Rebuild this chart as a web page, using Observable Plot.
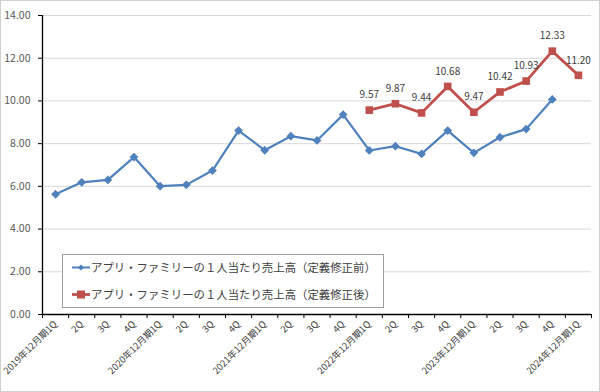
<!DOCTYPE html>
<html>
<head>
<meta charset="utf-8">
<script src="https://cdn.jsdelivr.net/npm/d3@7"></script>
<script src="https://cdn.jsdelivr.net/npm/@observablehq/plot@0.6"></script>
<style>
  body { margin: 0; background: #fff; }
  #wrap { position: relative; width: 600px; height: 392px; font-family: "Noto Sans CJK JP", sans-serif; }
  #border { position: absolute; left: 0; top: 0; width: 598px; height: 390px; border: 1px solid #d0d0d0; pointer-events: none; }
  #legend { position: absolute; left: 62px; top: 254px; width: 322px; height: 54px; border: 1px solid #a0a0a0; background: #fff; box-sizing: border-box; font-size: 11.4px; color: #404040; }
  .row { position: absolute; left: 9px; height: 14px; display: flex; align-items: center; white-space: nowrap; }
  .row svg { margin-right: 1px; }
</style>
</head>
<body>
<div id="wrap">
  <div id="chart"></div>
  <div id="legend"></div>
  <div id="border"></div>
</div>
<script>
const categories = ["2019年12月期1Q","2Q","3Q","4Q","2020年12月期1Q","2Q","3Q","4Q","2021年12月期1Q","2Q","3Q","4Q","2022年12月期1Q","2Q","3Q","4Q","2023年12月期1Q","2Q","3Q","4Q","2024年12月期1Q"];
const seriesBefore = [5.63,6.19,6.30,7.37,6.01,6.07,6.74,8.61,7.69,8.35,8.15,9.36,7.68,7.88,7.52,8.61,7.57,8.30,8.68,10.07,null];
const seriesAfter = [null,null,null,null,null,null,null,null,null,null,null,null,9.57,9.87,9.44,10.68,9.47,10.42,10.93,12.33,11.20];
const seriesNames = ["アプリ・ファミリーの１人当たり売上高（定義修正前）","アプリ・ファミリーの１人当たり売上高（定義修正後）"];
const yTicks = [0,2,4,6,8,10,12,14];
const colors = ["#4f81bd","#c0504d"];

const before = seriesBefore.map((v,i)=>({i, v})).filter(d=>d.v!=null);
const after = seriesAfter.map((v,i)=>({i, v})).filter(d=>d.v!=null);

const font = '"Noto Sans CJK JP", sans-serif';
const chart = Plot.plot({
  width: 600, height: 392,
  marginLeft: 42, marginRight: 9, marginTop: 15, marginBottom: 78,
  style: {fontFamily: font, background: "transparent", overflow: "visible"},
  x: {type: "linear", domain: [-0.5, categories.length - 0.5]},
  y: {domain: [0, 14]},
  marks: [
    Plot.ruleY(yTicks.filter(t=>t>0), {stroke: "#d9d9d9", strokeWidth: 1}),
    Plot.axisY({ticks: yTicks, tickFormat: d=>d.toFixed(2), tickSize: 4, tickPadding: 8, stroke: "#000", fill: "#595959", fontSize: 10.5, label: null}),
    Plot.axisX({ticks: d3.range(-0.5, categories.length, 1), tickFormat: ()=>"", tickSize: 4, stroke: "#000", label: null}),
    Plot.axisX({ticks: d3.range(categories.length), tickFormat: i=>categories[i], tickSize: 0, tickPadding: 8, tickRotate: -45, fill: "#404040", fontSize: 9.3, label: null}),
    Plot.ruleX([-0.5], {y1: 0, y2: 14, stroke: "#000", strokeWidth: 1.3}),
    Plot.ruleY([0], {stroke: "#000", strokeWidth: 1.3}),
    Plot.line(before, {x: "i", y: "v", stroke: colors[0], strokeWidth: 2.2}),
    Plot.dot(before, {x: "i", y: "v", symbol: "diamond2", r: 3, fill: colors[0], stroke: colors[0]}),
    Plot.line(after, {x: "i", y: "v", stroke: colors[1], strokeWidth: 2.8}),
    Plot.dot(after, {x: "i", y: "v", symbol: "square", r: 4.3, fill: colors[1], stroke: "none"}),
    Plot.text(after, {x: "i", y: "v", text: d=>d.v.toFixed(2), dy: -15, fill: "#404040", fontSize: 10})
  ]
});
document.getElementById("chart").appendChild(chart);

const legend = document.getElementById("legend");
const tops = [5, 32];
seriesNames.forEach((name, k) => {
  const row = document.createElement("div");
  row.className = "row";
  row.style.top = tops[k] + "px";
  const marker = k === 0
    ? `<path d="M9,2.5 L12,5.5 L9,8.5 L6,5.5Z" fill="${colors[0]}"/>`
    : `<rect x="5" y="1.5" width="8" height="8" fill="${colors[1]}"/>`;
  row.innerHTML = `<svg width="18" height="11"><line x1="0" x2="18" y1="5.5" y2="5.5" stroke="${colors[k]}" stroke-width="${k===0?2:2.8}"/>${marker}</svg><span>${name}</span>`;
  legend.appendChild(row);
});
</script>
</body>
</html>
